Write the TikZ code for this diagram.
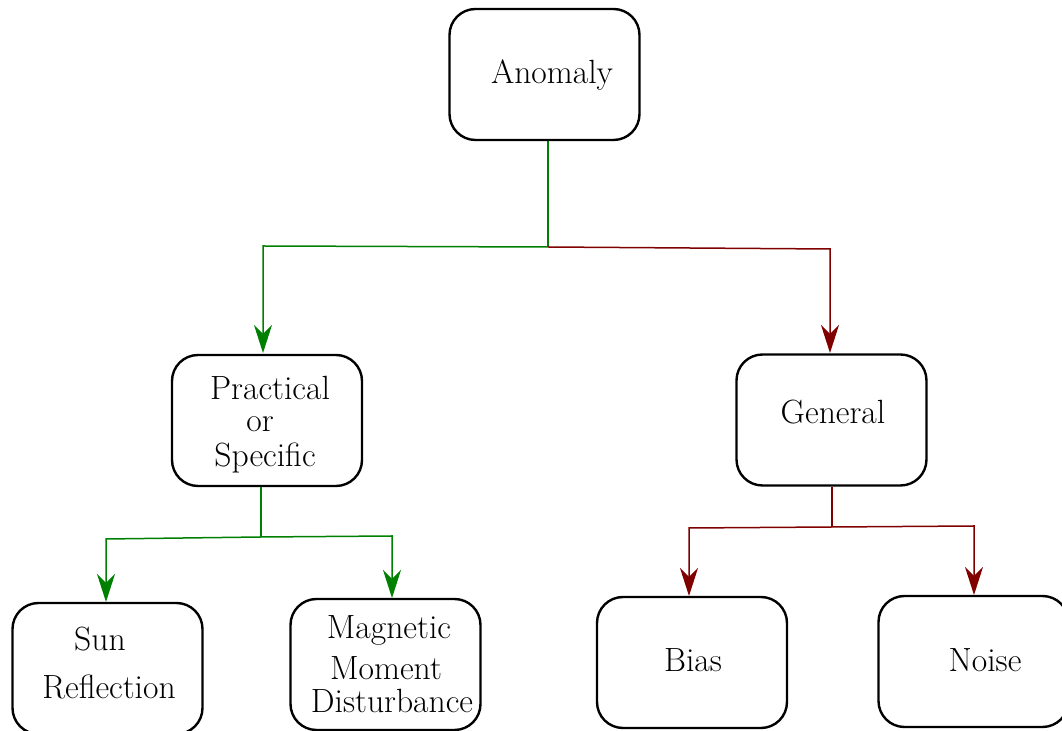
\documentclass[tikz,border=0pt]{standalone}
\usetikzlibrary{arrows.meta}
\begin{document}
\begin{tikzpicture}[x=0.5pt,y=-0.5pt,
  box/.style={draw=black,line width=1.2pt,rounded corners=13pt,minimum width=95pt,minimum height=65.5pt,inner sep=0pt},
  txt/.style={font=\fontsize{16.8}{19}\selectfont,inner sep=0pt,anchor=base},
  gline/.style={draw=green!50!black,line width=0.75pt},
  rline/.style={draw=red!50!black,line width=0.75pt},
  tip/.style={-{Stealth[length=14pt,width=9pt,inset=4.5pt]}}]
\useasboundingbox (0,0) rectangle (1062,731);
% boxes
\node[box] (anom) at (544.5,74.5) {};
\node[box] (prac) at (267,420.5) {};
\node[box] (gen) at (831.5,420) {};
\node[box] (sun) at (107.5,668.5) {};
\node[box] (mag) at (385.5,664.5) {};
\node[box] (bias) at (692,662.5) {};
\node[box] (noise) at (973.5,661.5) {};
% texts
\node[txt] (t1) at (552,84) {Anomaly};
\node[txt] (t2) at (270,400) {Practical};
\node[txt] (t3) at (260,432) {or};
\node[txt] (t4) at (265,467) {Specific};
\node[txt] (t5) at (833,424) {General};
\node[txt] (t6) at (100,651) {Sun};
\node[txt] (t7) at (109,699) {Reflection};
\node[txt] (t8) at (389,639) {Magnetic};
\node[txt] (t9) at (386,680) {Moment};
\node[txt] (t10) at (392,713) {Disturbance};
\node[txt] (t11) at (693,672) {Bias};
\node[txt] (t12) at (985,672) {Noise};
% connectors
\coordinate (j1) at (548,247);
\coordinate (j2) at (261,537);
\coordinate (j3) at (832,527);
\draw[gline] (anom.south -| j1) -- (j1);
\draw[gline,tip] (j1) -- (263,246) -- (263,353);
\draw[rline,tip] (j1) -- (830,249) -- (830,353);
\draw[gline] (prac.south -| j2) -- (j2);
\draw[gline,tip] (j2) -- (106,539) -- (106,602);
\draw[gline,tip] (j2) -- (392,536) -- (392,598);
\draw[rline] (gen.south -| j3) -- (j3);
\draw[rline,tip] (j3) -- (689,528) -- (689,596);
\draw[rline,tip] (j3) -- (974,526) -- (974,595);
\end{tikzpicture}
\end{document}
